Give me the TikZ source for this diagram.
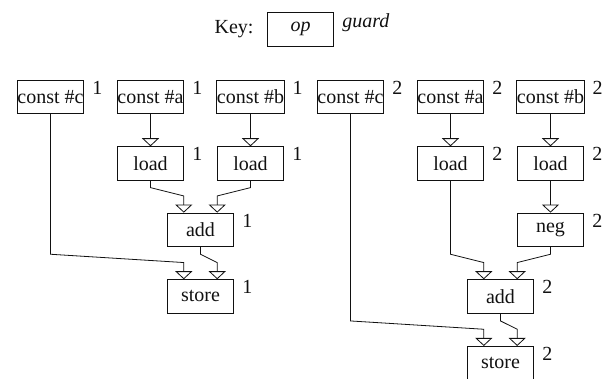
\documentclass[tikz,border=0pt]{standalone}
\usepackage{fontspec}
\setmainfont{Liberation Serif}
\usepackage{tikz}
\usetikzlibrary{positioning,arrows.meta,calc}
\definecolor{ink}{HTML}{111111}
\tikzset{
  op/.style   = {draw=ink, line width=0.8pt, minimum width=66.7pt,
                 minimum height=33.3pt, inner sep=0pt, text=ink,
                 font=\fontsize{20}{24}\selectfont},
  grd/.style  = {label={[anchor=north west, inner sep=0pt, xshift=8pt,
                 yshift=-1pt, text=ink, font=\fontsize{20}{24}\selectfont]north east:#1}},
  flow/.style = {-{Triangle[open, length=8pt, width=17pt]}, draw=ink, line width=0.8pt},
  lbl/.style  = {font=\fontsize{20}{24}\selectfont, text=ink, inner sep=0pt},
}

\begin{document}
\begin{tikzpicture}[x=1pt, y=-1pt]
  \useasboundingbox (0,0) rectangle (610,379);

  % key
  \node[op, font=\fontsize{20}{24}\selectfont\itshape, grd={\textit{guard}}] (key) at (300.5,29.3) {op};
  \node[lbl, anchor=east] (keylbl) at ($(key.west)+(-13,0)$) {Key:};

  % constants
  \node[op, grd=1] (cc1) at (50.5,96.7)  {const \#c};
  \node[op, grd=1] (ca1) at (150.5,96.7) {const \#a};
  \node[op, grd=1] (cb1) at (250.5,96.7) {const \#b};
  \node[op, grd=2] (cc2) at (350.5,96.7) {const \#c};
  \node[op, grd=2] (ca2) at (450.5,96.7) {const \#a};
  \node[op, grd=2] (cb2) at (550.5,96.7) {const \#b};

  % guard 1
  \node[op, grd=1] (ld1a)   at (150.5,163.3) {load};
  \node[op, grd=1] (ld1b)   at (250.5,163.3) {load};
  \node[op, grd=1] (add1)   at (200.5,229.7) {add};
  \node[op, grd=1] (store1) at (200.5,296.3) {store};

  % guard 2
  \node[op, grd=2] (ld2a)   at (450.5,163.3) {load};
  \node[op, grd=2] (ld2b)   at (550.5,163.3) {load};
  \node[op, grd=2] (neg2)   at (550.5,229.7) {neg};
  \node[op, grd=2] (add2)   at (500.5,296.3) {add};
  \node[op, grd=2] (store2) at (500.5,363)   {store};

  % straight edges
  \draw[flow] (ca1.south) -- (ld1a.north);
  \draw[flow] (cb1.south) -- (ld1b.north);
  \draw[flow] (ca2.south) -- (ld2a.north);
  \draw[flow] (cb2.south) -- (ld2b.north);
  \draw[flow] (ld2b.south) -- (neg2.north);

  % bent edges into ports
  \draw[flow] (ld1a.south) -- ($(ld1a.south |- add1.north)+(0,-25)$)
    -- ($(add1.north)+(-16.7,-16.7)$) -- ($(add1.north)+(-16.7,0)$);
  \draw[flow] (ld1b.south) -- ($(ld1b.south |- add1.north)+(0,-25)$)
    -- ($(add1.north)+(16.7,-16.7)$) -- ($(add1.north)+(16.7,0)$);
  \draw[flow] (cc1.south) -- ($(cc1.south |- store1.north)+(0,-25)$)
    -- ($(store1.north)+(-16.7,-16.7)$) -- ($(store1.north)+(-16.7,0)$);
  \draw[flow] (add1.south) -- ($(add1.south |- store1.north)+(0,-25)$)
    -- ($(store1.north)+(16.7,-16.7)$) -- ($(store1.north)+(16.7,0)$);

  \draw[flow] (ld2a.south) -- ($(ld2a.south |- add2.north)+(0,-25)$)
    -- ($(add2.north)+(-16.7,-16.7)$) -- ($(add2.north)+(-16.7,0)$);
  \draw[flow] (neg2.south) -- ($(neg2.south |- add2.north)+(0,-25)$)
    -- ($(add2.north)+(16.7,-16.7)$) -- ($(add2.north)+(16.7,0)$);
  \draw[flow] (cc2.south) -- ($(cc2.south |- store2.north)+(0,-25)$)
    -- ($(store2.north)+(-16.7,-16.7)$) -- ($(store2.north)+(-16.7,0)$);
  \draw[flow] (add2.south) -- ($(add2.south |- store2.north)+(0,-25)$)
    -- ($(store2.north)+(16.7,-16.7)$) -- ($(store2.north)+(16.7,0)$);
\end{tikzpicture}
\end{document}
